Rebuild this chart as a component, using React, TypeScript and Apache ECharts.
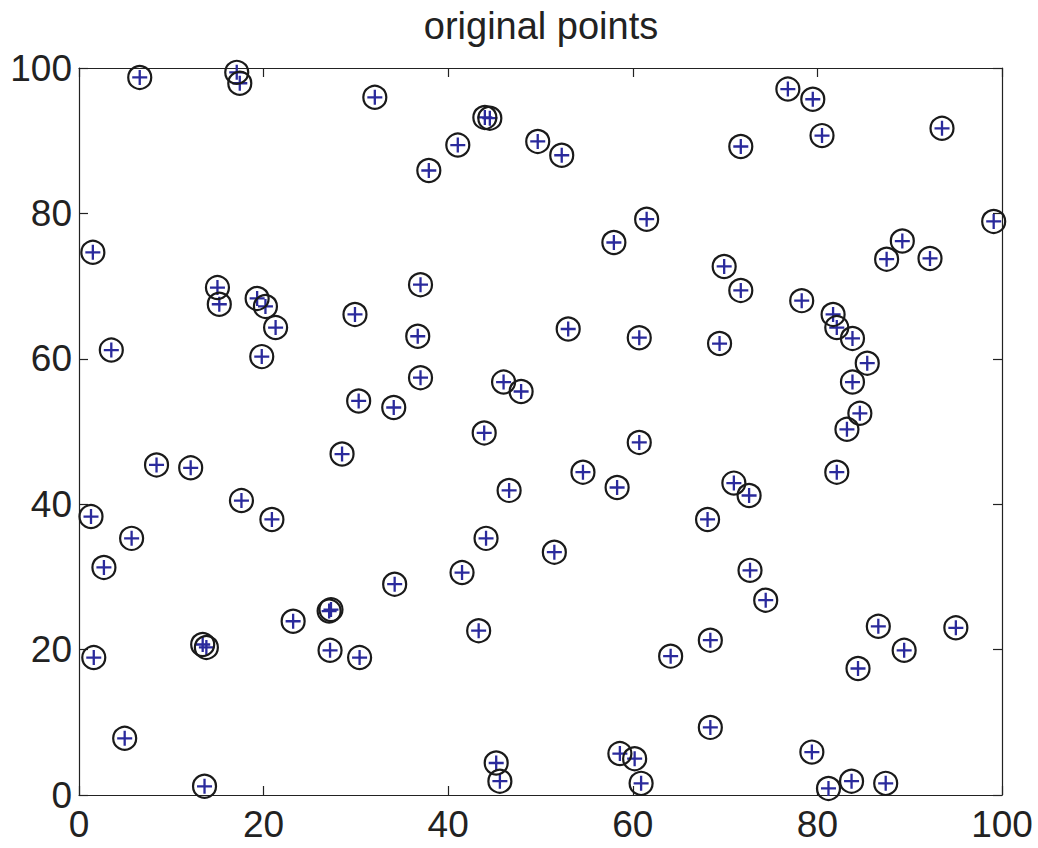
import React, { useEffect, useRef } from "react";
import * as echarts from "echarts";

const pointX: number[] = [
  6.58, 17.09, 17.42, 32.05, 41.04, 43.97, 44.51, 37.9, 49.7, 52.3,
  76.8, 79.5, 80.5, 71.7, 93.5, 99.1, 1.5, 61.5, 57.95, 89.2,
  87.5, 92.2, 69.9, 15.0, 37.0, 71.7, 78.3, 15.2, 19.3, 20.2,
  21.3, 19.8, 29.9, 36.7, 3.5, 81.7, 82.1, 83.8, 85.4, 83.8,
  53.0, 60.7, 69.4, 37.0, 46.0, 47.9, 30.3, 34.1, 84.6, 83.2,
  43.9, 60.7, 28.5, 8.4, 12.1, 54.6, 82.1, 58.3, 70.95, 72.6,
  46.6, 17.6, 20.9, 1.3, 68.1, 5.7, 44.1, 51.5, 2.7, 41.5,
  72.7, 34.2, 74.4, 23.2, 27.1, 27.3, 86.6, 95.0, 43.3, 13.4,
  13.8, 68.4, 27.2, 30.4, 1.6, 64.1, 89.4, 84.4, 4.95, 68.4,
  58.6, 60.2, 79.4, 13.6, 45.2, 45.6, 60.9, 81.2, 83.7, 87.4,
];

const pointY: number[] = [
  98.7, 99.4, 97.9, 95.97, 89.4, 93.2, 93.1, 85.9, 89.9, 88.0,
  97.1, 95.7, 90.7, 89.2, 91.7, 78.9, 74.65, 79.2, 76.0, 76.2,
  73.7, 73.8, 72.7, 69.8, 70.2, 69.4, 68.0, 67.5, 68.3, 67.2,
  64.3, 60.3, 66.1, 63.1, 61.2, 66.1, 64.3, 62.8, 59.4, 56.8,
  64.1, 62.9, 62.1, 57.4, 56.8, 55.5, 54.2, 53.3, 52.5, 50.3,
  49.8, 48.5, 46.9, 45.4, 45.0, 44.4, 44.4, 42.3, 42.9, 41.2,
  41.9, 40.5, 37.9, 38.3, 37.9, 35.3, 35.3, 33.4, 31.3, 30.6,
  30.9, 29.0, 26.8, 23.9, 25.3, 25.5, 23.2, 23.0, 22.6, 20.7,
  20.3, 21.3, 19.9, 18.9, 18.9, 19.1, 19.9, 17.4, 7.8, 9.3,
  5.7, 5.0, 5.9, 1.2, 4.4, 1.9, 1.6, 0.9, 1.9, 1.6,
];

const axisMin = 0;
const axisMax = 100;
const axisStep = 20;
const titleText = "original points";

const FONT = "'Liberation Sans', Arial, Helvetica, sans-serif";
const INK = "#222222";

export default function App() {
  const ref = useRef<HTMLDivElement>(null);

  useEffect(() => {
    if (!ref.current) return;
    const chart = echarts.init(ref.current, undefined, { renderer: "svg" });
    const pts = pointX.map((x, i) => [x, pointY[i]]);

    const baseAxis = {
      type: "value" as const,
      min: axisMin,
      max: axisMax,
      interval: axisStep,
      axisLine: { show: true, onZero: false, lineStyle: { color: INK, width: 1.2 } },
      axisTick: { show: true, inside: true, length: 9, lineStyle: { color: INK, width: 1.2 } },
      splitLine: { show: false },
    };

    chart.setOption({
      animation: false,
      backgroundColor: "#ffffff",
      grid: { left: 79, right: 36, top: 68, bottom: 53, containLabel: false },
      graphic: [
        {
          type: "text",
          x: 541,
          y: 26,
          style: {
            text: titleText,
            fontSize: 38,
            fontFamily: FONT,
            fill: INK,
            align: "center",
            verticalAlign: "middle",
          },
        },
      ],
      xAxis: [
        {
          ...baseAxis,
          position: "bottom",
          axisLabel: {
            show: true,
            fontSize: 37,
            fontFamily: FONT,
            color: INK,
            margin: 11,
            showMinLabel: true,
            showMaxLabel: true,
          },
        },
        { ...baseAxis, position: "top", axisLabel: { show: false } },
      ],
      yAxis: [
        {
          ...baseAxis,
          position: "left",
          axisLabel: {
            show: true,
            fontSize: 37,
            fontFamily: FONT,
            color: INK,
            margin: 7,
            showMinLabel: true,
            showMaxLabel: true,
          },
        },
        { ...baseAxis, position: "right", axisLabel: { show: false } },
      ],
      series: [
        {
          type: "scatter",
          xAxisIndex: 0,
          yAxisIndex: 0,
          data: pts,
          symbol: "path://M7,0L7,14M0,7L14,7",
          symbolSize: 15,
          itemStyle: { color: "rgba(0,0,0,0)", borderColor: "#2a2a9c", borderWidth: 2.3, opacity: 1 },
          silent: true,
          z: 2,
        },
        {
          type: "scatter",
          xAxisIndex: 0,
          yAxisIndex: 0,
          data: pts,
          symbol: "circle",
          symbolSize: 23,
          itemStyle: { color: "rgba(0,0,0,0)", borderColor: "#1a1a1a", borderWidth: 2.2, opacity: 1 },
          silent: true,
          z: 3,
        },
      ],
    });

    return () => chart.dispose();
  }, []);

  return (
    <div
      ref={ref}
      style={{ position: "fixed", left: 0, top: 0, width: 1038, height: 848 }}
    />
  );
}
